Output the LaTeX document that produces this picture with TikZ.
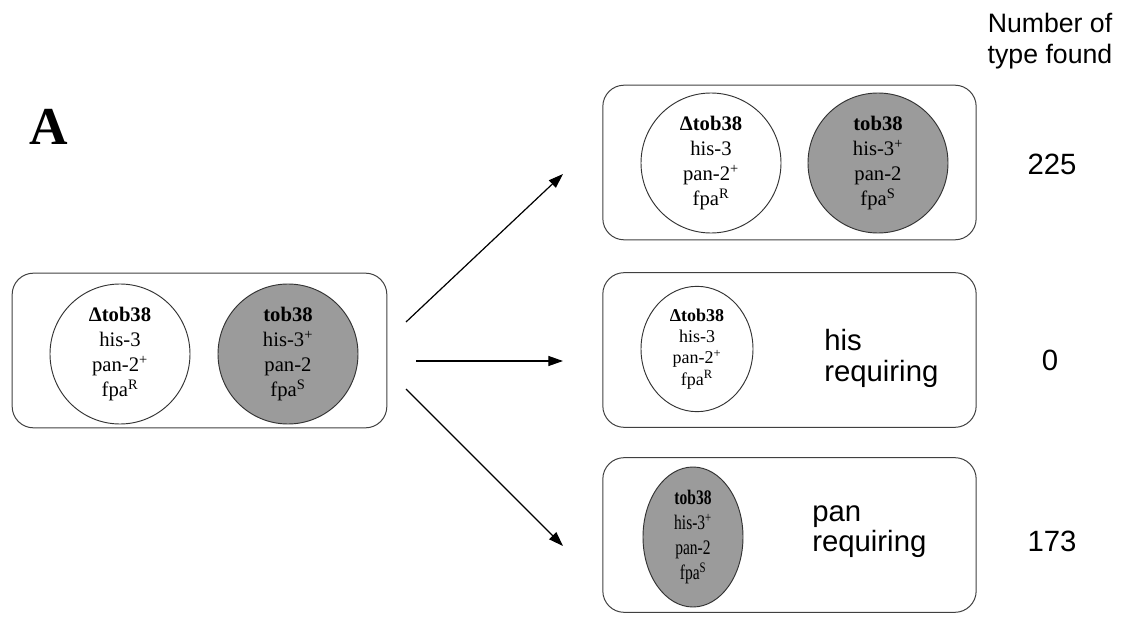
\documentclass[tikz,border=0pt]{standalone}
\usepackage{graphicx}
\usepackage{fontspec}
\setmainfont{Liberation Serif}
\setsansfont{Liberation Sans}
\usetikzlibrary{arrows.meta,shapes.geometric}
\definecolor{cellgray}{RGB}{155,155,155}
\begin{document}
\begin{tikzpicture}[x=0.75pt,y=-0.75pt,
  panel/.style={draw=black!75, line width=0.75pt, rounded corners=16pt,
    minimum width=280pt, minimum height=116pt, inner sep=0pt},
  cellw/.style={draw=black!80, line width=0.7pt, fill=white, circle,
    minimum size=105pt, inner sep=0pt, align=center,
    font=\fontsize{15.5}{18.75}\selectfont},
  cellg/.style={cellw, fill=cellgray},
  cellm/.style={draw=black!80, line width=0.7pt, fill=white, ellipse,
    minimum width=84pt, minimum height=94pt, inner sep=0pt, align=center,
    font=\fontsize{13.5}{16}\selectfont},
  cellb/.style={draw=black!80, line width=0.7pt, fill=cellgray, ellipse,
    minimum width=75pt, minimum height=105pt, inner sep=0pt, align=center,
    font=\fontsize{15.5}{18.75}\selectfont},
  lab/.style={font=\sffamily\fontsize{22}{24}\selectfont, inner sep=0pt},
  arr/.style={line width=0.9pt, -{Triangle[length=11pt,width=7.5pt]}}]
\path[use as bounding box] (0,0) rectangle (1122,617);

% panels
\node[panel, minimum width=281pt] (L) at (199.5,350.5) {};
\node[panel] (T) at (789.5,162.5) {};
\node[panel] (M) at (789.5,350) {};
\node[panel] (B) at (789.5,535) {};

% cells
\node[cellw] (Lw) at (120,354) {\textbf{Δtob38}\\his-3\\pan-2\textsuperscript{+}\\fpa\textsuperscript{R}};
\node[cellg] (Lg) at (288,354) {\textbf{tob38}\\his-3\textsuperscript{+}\\pan-2\\fpa\textsuperscript{S}};
\node[cellw] (Tw) at (711,163) {\textbf{Δtob38}\\his-3\\pan-2\textsuperscript{+}\\fpa\textsuperscript{R}};
\node[cellg] (Tg) at (878,163) {\textbf{tob38}\\his-3\textsuperscript{+}\\pan-2\\fpa\textsuperscript{S}};
\node[cellm] (Mw) at (697,349) {\textbf{Δtob38}\\his-3\\pan-2\textsuperscript{+}\\fpa\textsuperscript{R}};
\node[cellb] (Bg) at (693,537) {\scalebox{0.75}[1]{\textbf{tob38}}\\\scalebox{0.75}[1]{his-3\textsuperscript{+}}\\\scalebox{0.75}[1]{pan-2}\\\scalebox{0.75}[1]{fpa\textsuperscript{S}}};

% labels
\node[lab, anchor=base west] (Mt1) at (824,350) {his};
\node[lab, anchor=base west] (Mt2) at (824,381) {requiring};
\node[lab, anchor=base west] (Bt1) at (812,521) {pan};
\node[lab, anchor=base west] (Bt2) at (812,551) {requiring};
\node[lab] (n1) at (1052,164) {225};
\node[lab] (n2) at (1050,360) {0};
\node[lab] (n3) at (1052,541) {173};
\node[font=\sffamily\fontsize{20}{23.25}\selectfont, align=center, anchor=north, inner sep=0pt] (hdr) at (1050,13) {Number of\\type found};
\node[font=\bfseries\fontsize{40}{40}\selectfont, anchor=base west, inner sep=0pt] (A) at (29,145) {A};

% arrows
\coordinate (s1) at (406,322); \coordinate (e1) at (563,174);
\coordinate (s2) at (416,361); \coordinate (e2) at (563,361);
\coordinate (s3) at (406,389); \coordinate (e3) at (563,546);
\draw[arr] (s1) -- (e1);
\draw[arr] (s2) -- (e2);
\draw[arr] (s3) -- (e3);
\end{tikzpicture}
\end{document}
